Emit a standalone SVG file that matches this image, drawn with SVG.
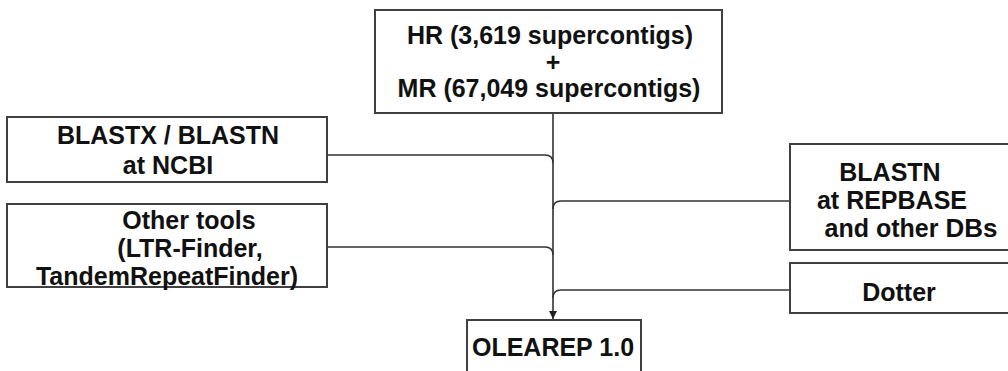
<svg xmlns="http://www.w3.org/2000/svg" width="1008" height="371" viewBox="0 0 1008 371">
<style>
.box{fill:#fff;stroke:#404040;stroke-width:2}
.t{font-family:"Liberation Sans",Arial,sans-serif;font-weight:bold;font-size:25px;fill:#111;text-anchor:middle}
.c{fill:none;stroke:#333;stroke-width:1.6}
</style>
<defs>
<marker id="arr" markerWidth="10" markerHeight="10" refX="8" refY="4" orient="auto" markerUnits="userSpaceOnUse">
<path d="M0,0 L8,4 L0,8 Z" fill="#222"/>
</marker>
</defs>
<rect width="1008" height="371" fill="#fff"/>
<g id="connectors">
<path class="c" d="M553,113 V319" marker-end="url(#arr)"/>
<path class="c" d="M327,155 H545 Q553,155 553,163"/>
<path class="c" d="M327,247 H545 Q553,247 553,255"/>
<path class="c" d="M790,201 H561 Q553,201 553,209"/>
<path class="c" d="M790,290 H561 Q553,290 553,298"/>
</g>
<g id="node-hr-mr">
<rect class="box" x="375" y="10" width="347" height="103"/>
<text class="t" x="550" y="44">HR (3,619 supercontigs)</text>
<text class="t" x="553" y="71">+</text>
<text class="t" x="549" y="97">MR (67,049 supercontigs)</text>
</g>
<g id="node-blastx">
<rect class="box" x="7" y="117" width="320" height="65"/>
<text class="t" x="168" y="144">BLASTX / BLASTN</text>
<text class="t" x="168" y="174">at NCBI</text>
</g>
<g id="node-other">
<rect class="box" x="7" y="204" width="320" height="83"/>
<text class="t" x="189" y="229">Other tools</text>
<text class="t" x="190" y="257">(LTR-Finder,</text>
<text class="t" x="167" y="285">TandemRepeatFinder)</text>
</g>
<g id="node-blastn">
<rect class="box" x="790" y="144" width="230" height="106"/>
<text class="t" x="890" y="181">BLASTN</text>
<text class="t" x="892" y="209">at REPBASE</text>
<text class="t" x="911" y="237">and other <tspan font-size="26">DBs</tspan></text>
</g>
<g id="node-dotter">
<rect class="box" x="790" y="263" width="230" height="50"/>
<text class="t" x="899" y="301">Dotter</text>
</g>
<g id="node-olearep">
<rect class="box" x="467" y="320" width="174" height="60"/>
<text class="t" x="553" y="356">OLEAREP 1.0</text>
</g>
</svg>
